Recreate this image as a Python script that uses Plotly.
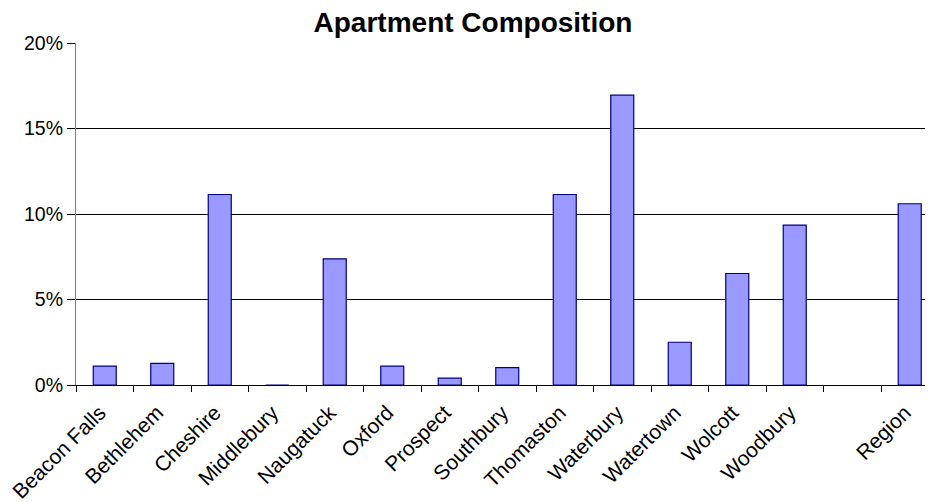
import plotly.graph_objects as go

categories = ["Beacon Falls", "Bethlehem", "Cheshire", "Middlebury", "Naugatuck",
              "Oxford", "Prospect", "Southbury", "Thomaston", "Waterbury",
              "Watertown", "Wolcott", "Woodbury", " ", "Region"]
values = [0.011, 0.0127, 0.1114, 0.0, 0.0738,
          0.011, 0.004, 0.0102, 0.1114, 0.1695,
          0.025, 0.0652, 0.0935, None, 0.106]
y_ticks = [0, 0.05, 0.10, 0.15, 0.20]
y_ticktext = ["0%", "5%", "10%", "15%", "20%"]

# page body has an 8px margin; work in figure coordinates
OFF = 8
W, H = 933 - OFF, 502 - OFF
left, top, bottom = 76 - OFF, 43.3 - OFF, 385.5 - OFF
slot = 57.5
plot_w = W - left
x_end = -0.5 + plot_w / slot

fig = go.Figure()
fig.add_trace(go.Bar(
    x=categories, y=values,
    marker=dict(color="#9999FF", line=dict(color="#000080", width=1.2)),
    width=0.4,
))

fig.update_layout(
    width=W, height=H,
    margin=dict(l=left, r=0, t=top, b=H - bottom, pad=0, autoexpand=False),
    paper_bgcolor="white", plot_bgcolor="white",
    showlegend=False,
    font=dict(family="Liberation Sans, Arial, sans-serif", color="black"),
    title=dict(text="<b>Apartment Composition</b>",
               font=dict(size=28, color="black", family="Liberation Sans, Arial, sans-serif"),
               xref="paper", x=(473 - 76) / plot_w, xanchor="center",
               yref="container", y=1 - 4 / H, yanchor="top", pad=dict(t=0)),
    xaxis=dict(
        type="category", categoryorder="array", categoryarray=categories,
        range=[-0.5, x_end], tickson="boundaries", automargin=False,
        showgrid=False, showline=True, linecolor="black", linewidth=1.2,
        ticks="outside", ticklen=6, tickcolor="black", tickwidth=1,
        tickangle=-45, tickfont=dict(size=21, color="black"),
        ticklabelstandoff=6, ticklabelshift=-5,
        zeroline=False, layer="above traces",
    ),
    yaxis=dict(
        range=[0, 0.2], tickvals=y_ticks, ticktext=y_ticktext, automargin=False,
        showgrid=True, gridcolor="black", gridwidth=1,
        showline=True, linecolor="#808080", linewidth=1.2,
        ticks="outside", ticklen=8, tickcolor="black", tickwidth=1,
        tickfont=dict(size=19.5, color="black"),
        zeroline=False,
    ),
    bargap=0.6,
)

fig.write_html("out.html")
